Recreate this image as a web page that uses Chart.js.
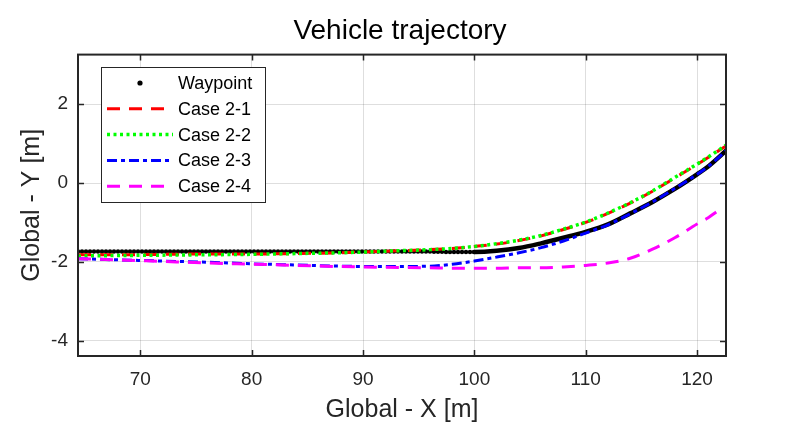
<!DOCTYPE html>
<html>
<head>
<meta charset="utf-8">
<title>Vehicle trajectory</title>
<script src="https://cdn.jsdelivr.net/npm/chart.js@4/dist/chart.umd.min.js"></script>
<style>
  html, body { margin: 0; padding: 0; background: #fff; }
  canvas { display: block; }
</style>
</head>
<body>
<canvas id="traj" width="800" height="440"></canvas>
<script>
// sample positions along Global X [m]
const xGlobal = [64.4, 68, 72, 76, 80, 84, 88, 92, 96, 98, 100, 102, 104, 106, 108, 110, 112, 114, 116, 118, 120, 121, 122.6];
const xCase24 = [64.4, 68, 72, 76, 80, 84, 88, 92, 96, 98, 100, 102, 104, 106, 108, 110, 112, 114, 116, 118, 120, 121, 121.8];

// Global Y [m] per series
const yWaypoint = [-1.74, -1.74, -1.74, -1.74, -1.74, -1.74, -1.74, -1.74, -1.74, -1.75, -1.75, -1.72, -1.65, -1.53, -1.39, -1.24, -1.05, -0.77, -0.48, -0.15, 0.22, 0.42, 0.82];
const yCase21 = [-1.82, -1.82, -1.81, -1.80, -1.80, -1.79, -1.77, -1.73, -1.69, -1.66, -1.61, -1.55, -1.46, -1.34, -1.18, -1.00, -0.77, -0.51, -0.21, 0.13, 0.47, 0.65, 0.94];
const yCase22 = [-1.85, -1.84, -1.83, -1.82, -1.81, -1.79, -1.77, -1.73, -1.69, -1.66, -1.61, -1.54, -1.45, -1.33, -1.17, -0.99, -0.76, -0.50, -0.20, 0.14, 0.48, 0.66, 0.96];
const yCase23 = [-1.92, -1.95, -1.98, -2.01, -2.05, -2.08, -2.11, -2.12, -2.11, -2.06, -1.98, -1.88, -1.77, -1.64, -1.47, -1.27, -1.06, -0.78, -0.48, -0.14, 0.22, 0.42, 0.82];
const yCase24 = [-1.92, -1.95, -1.99, -2.03, -2.06, -2.09, -2.12, -2.14, -2.15, -2.16, -2.16, -2.16, -2.15, -2.15, -2.13, -2.09, -2.03, -1.91, -1.68, -1.39, -1.04, -0.88, -0.72];

const seriesNames = ["Waypoint", "Case 2-1", "Case 2-2", "Case 2-3", "Case 2-4"];
const xTicks = [70, 80, 90, 100, 110, 120];
const yTicks = [-4, -2, 0, 2];

const pts = (xs, ys) => xs.map((x, i) => ({ x: x, y: ys[i] }));
const ink = "#262626";
const fontFam = "'Liberation Sans', Arial, sans-serif";

// axes box + inward tick marks (MATLAB style)
const boxPlugin = {
  id: "boxAxes",
  afterDatasetsDraw(chart) {
    const { ctx, chartArea: a, scales } = chart;
    ctx.save();
    ctx.strokeStyle = ink;
    ctx.lineWidth = 1.5;
    xTicks.forEach((v) => {
      const px = Math.round(scales.x.getPixelForValue(v)) + 0.5;
      ctx.beginPath();
      ctx.moveTo(px, a.bottom); ctx.lineTo(px, a.bottom - 6);
      ctx.moveTo(px, a.top); ctx.lineTo(px, a.top + 6);
      ctx.stroke();
    });
    yTicks.forEach((v) => {
      const py = Math.round(scales.y.getPixelForValue(v)) + 0.5;
      ctx.beginPath();
      ctx.moveTo(a.left, py); ctx.lineTo(a.left + 6, py);
      ctx.moveTo(a.right, py); ctx.lineTo(a.right - 6, py);
      ctx.stroke();
    });
    ctx.lineWidth = 2;
    ctx.strokeRect(a.left, a.top, a.right - a.left, a.bottom - a.top);
    ctx.restore();
  }
};

// legend box inside the axes, top-left
const legendPlugin = {
  id: "boxLegend",
  afterDraw(chart) {
    const ctx = chart.ctx;
    const bx = 101, by = 67, bw = 164, bh = 135;
    ctx.save();
    ctx.fillStyle = "#fff";
    ctx.fillRect(bx, by, bw, bh);
    ctx.strokeStyle = ink;
    ctx.lineWidth = 1;
    ctx.strokeRect(bx + 0.5, by + 0.5, bw, bh);
    ctx.font = "18px " + fontFam;
    ctx.textBaseline = "middle";
    chart.data.datasets.forEach((ds, i) => {
      const yy = by + 16 + i * 25.8;
      if (i === 0) {
        ctx.fillStyle = "#000";
        ctx.beginPath();
        ctx.arc(140, yy, 2.6, 0, Math.PI * 2);
        ctx.fill();
      } else {
        ctx.strokeStyle = ds.borderColor;
        ctx.lineWidth = ds.borderWidth;
        ctx.setLineDash(ds.borderDash || []);
        ctx.beginPath();
        ctx.moveTo(107, yy); ctx.lineTo(173, yy);
        ctx.stroke();
        ctx.setLineDash([]);
      }
      ctx.fillStyle = "#000";
      ctx.fillText(ds.label, 178, yy + 1);
    });
    ctx.restore();
  }
};

new Chart(document.getElementById("traj").getContext("2d"), {
  type: "line",
  data: {
    datasets: [
      {
        label: seriesNames[0], data: pts(xGlobal, yWaypoint),
        borderColor: "#000", borderWidth: 4.5, borderCapStyle: "round",
        borderDash: [0, 4], order: 5,
        segment: { borderDash: (c) => (c.p0.parsed.x >= 100 ? [] : undefined) }
      },
      { label: seriesNames[1], data: pts(xGlobal, yCase21), borderColor: "#ff0000", borderWidth: 3, borderDash: [13, 9], order: 4 },
      { label: seriesNames[2], data: pts(xGlobal, yCase22), borderColor: "#00ff00", borderWidth: 3.5, borderDash: [3, 3.5], order: 3 },
      { label: seriesNames[3], data: pts(xGlobal, yCase23), borderColor: "#0000ff", borderWidth: 3, borderDash: [10, 4, 4, 4], order: 2 },
      { label: seriesNames[4], data: pts(xCase24, yCase24), borderColor: "#ff00ff", borderWidth: 3, borderDash: [13, 9], order: 1 }
    ]
  },
  options: {
    responsive: false,
    animation: false,
    events: [],
    cubicInterpolationMode: "monotone",
    elements: { point: { radius: 0 }, line: { fill: false } },
    layout: { padding: 0 },
    plugins: {
      legend: { display: false },
      tooltip: { enabled: false },
      title: {
        display: true,
        text: "Vehicle trajectory",
        color: "#000",
        font: { family: fontFam, size: 28, weight: "normal" },
        padding: { top: 14, bottom: 7 }
      }
    },
    scales: {
      x: {
        type: "linear",
        position: "bottom",
        min: 64.4,
        max: 122.6,
        afterBuildTicks: (s) => { s.ticks = xTicks.map((v) => ({ value: v })); },
        afterFit: (s) => { s.height = 84; },
        grid: { color: "rgba(0,0,0,0.13)", drawTicks: false },
        border: { display: false },
        ticks: { color: ink, padding: 12, font: { family: fontFam, size: 19 } },
        title: {
          display: true, text: "Global - X [m]", color: ink,
          font: { family: fontFam, size: 25 },
          padding: { top: 0, bottom: 15 }
        }
      },
      y: {
        type: "linear",
        position: "left",
        min: -4.39,
        max: 3.26,
        afterBuildTicks: (s) => { s.ticks = yTicks.map((v) => ({ value: v })); },
        afterFit: (s) => { s.width = 78; },
        grid: { color: "rgba(0,0,0,0.13)", drawTicks: false },
        border: { display: false },
        ticks: { color: ink, padding: 10, font: { family: fontFam, size: 19 } },
        title: {
          display: true, text: "Global - Y [m]", color: ink,
          font: { family: fontFam, size: 25 },
          padding: { top: 17, bottom: 0 }
        }
      },
      // empty right-hand margin so the title stays centred on the page
      yRight: {
        type: "linear",
        position: "right",
        min: -4.39,
        max: 3.26,
        afterFit: (s) => { s.width = 74; },
        grid: { display: false },
        border: { display: false },
        ticks: { display: false }
      }
    }
  },
  plugins: [boxPlugin, legendPlugin]
});
</script>
</body>
</html>
